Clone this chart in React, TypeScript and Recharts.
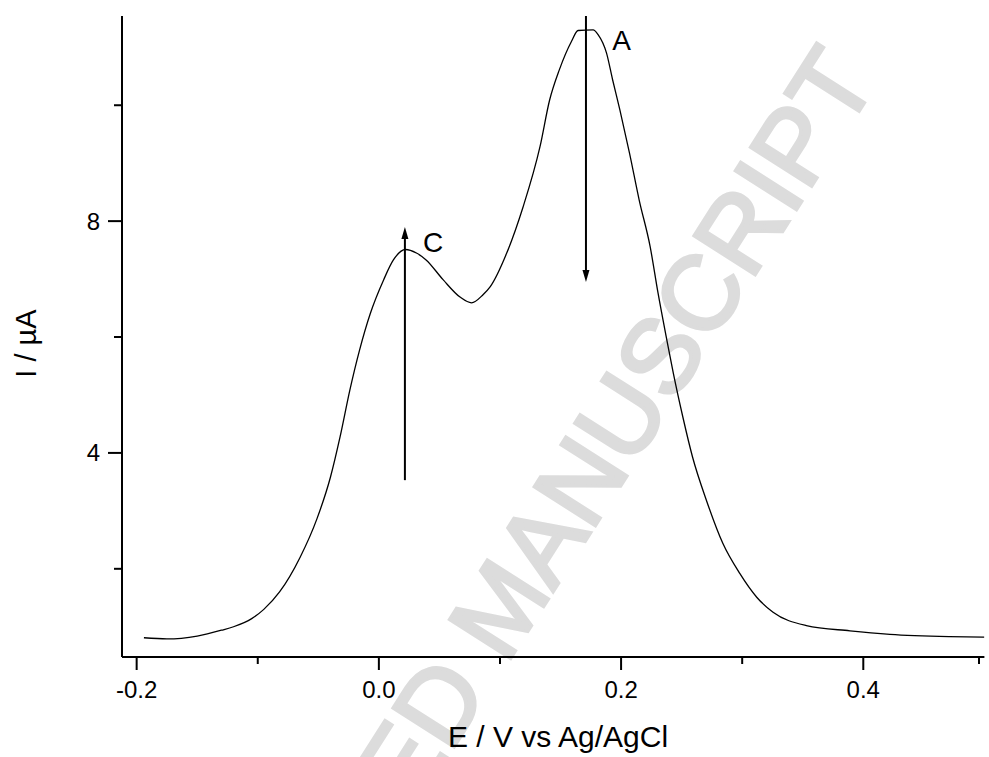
import React from 'react';
import { LineChart, Line, XAxis, YAxis, ReferenceLine, ReferenceDot } from 'recharts';

// differential pulse voltammogram
const potential = [
  -0.194, -0.175, -0.15, -0.13, -0.12, -0.105, -0.095, -0.082, -0.065, -0.051,
  -0.04, -0.032, -0.024, -0.016, -0.007, 0.004, 0.012, 0.022, 0.031, 0.039,
  0.053, 0.067, 0.0765, 0.086, 0.092, 0.1054, 0.119, 0.133, 0.141,
  0.149, 0.159, 0.1645, 0.1769, 0.181, 0.188, 0.193, 0.199, 0.207, 0.215,
  0.224, 0.2305, 0.2375, 0.243, 0.251, 0.259, 0.2705, 0.284, 0.298, 0.312,
  0.3255, 0.353, 0.389, 0.422, 0.471, 0.5,
];
const current = [
  0.81, 0.79, 0.84, 0.94, 1.0, 1.14, 1.3, 1.6, 2.2, 2.87,
  3.58, 4.28, 5.08, 5.77, 6.41, 6.99, 7.33, 7.51, 7.45, 7.33,
  6.99, 6.69, 6.59, 6.73, 6.87, 7.44, 8.24, 9.28, 10.09,
  10.61, 11.1, 11.29, 11.3, 11.22, 10.9, 10.44, 9.92, 9.17, 8.36,
  7.56, 6.76, 5.98, 5.39, 4.62, 3.93, 3.18, 2.44, 1.92, 1.51,
  1.25, 1.02, 0.93, 0.87, 0.83, 0.82,
];

const xTicks = [-0.2, -0.1, 0, 0.1, 0.2, 0.3, 0.4, 0.5];
const xLabelled = [-0.2, 0, 0.2, 0.4];
const yTicks = [2, 4, 6, 8, 10];
const yLabelled = [4, 8];

// arrows: [potential, from current, to current]
const arrowC = [0.0215, 3.53, 7.9];
const arrowA = [0.171, 11.54, 6.95];

const FONT = "'Liberation Sans', Arial, Helvetica, sans-serif";

const data = potential.map((e, i) => ({ e, i: current[i] }));

const isLabelled = (list: number[], v: number) => list.some((m) => Math.abs(m - v) < 1e-9);

function XTick(props: any) {
  const { x, y, payload } = props;
  const major = isLabelled(xLabelled, payload.value);
  return (
    <g>
      <line x1={x} x2={x} y1={y} y2={y + (major ? 13 : 7)} stroke="#000" strokeWidth={2} />
      {major && (
        <text x={x} y={y + 41} textAnchor="middle" fontSize={24} fontFamily={FONT} fill="#000">
          {payload.value.toFixed(1)}
        </text>
      )}
    </g>
  );
}

function YTick(props: any) {
  const { x, y, payload } = props;
  const major = isLabelled(yLabelled, payload.value);
  return (
    <g>
      <line x1={x - (major ? 14 : 8)} x2={x} y1={y} y2={y} stroke="#000" strokeWidth={2} />
      {major && (
        <text x={x - 22} y={y + 8.5} textAnchor="end" fontSize={24} fontFamily={FONT} fill="#000">
          {payload.value}
        </text>
      )}
    </g>
  );
}

function arrowShape(props: any) {
  const { x1, y1, x2, y2 } = props;
  const dir = y2 > y1 ? 1 : -1;
  return (
    <g>
      <line x1={x1} y1={y1} x2={x2} y2={y2 - dir * 10} stroke="#000" strokeWidth={2} />
      <polygon
        points={`${x2},${y2} ${x2 - 3.5},${y2 - dir * 12} ${x2 + 3.5},${y2 - dir * 12}`}
        fill="#000"
      />
    </g>
  );
}

const letter = (t: string) => (p: any) => (
  <text x={p.cx} y={p.cy + 10} textAnchor="middle" fontSize={28} fontFamily={FONT} fill="#000">
    {t}
  </text>
);

export default function App() {
  return (
    <div style={{ position: 'relative', width: 989, height: 757, background: '#fff', overflow: 'hidden' }}>
      <style>{'body{margin:0}'}</style>
      <svg width={989} height={757} style={{ position: 'absolute', left: 0, top: 0 }}>
        <text
          x={879}
          y={80}
          transform="rotate(-57.5 879 80)"
          textAnchor="end"
          fontSize={105}
          fontFamily={FONT}
          fill="#dcdcdc"
          stroke="#dcdcdc"
          strokeWidth={3.5}
        >
          ACCEPTED MANUSCRIPT
        </text>
      </svg>
      <div style={{ position: 'absolute', left: 0, top: 0 }}>
        <LineChart width={989} height={757} data={data} margin={{ top: 16, right: 4.6, bottom: 0, left: 0 }}>
          <XAxis
            type="number"
            dataKey="e"
            domain={[-0.2121, 0.5]}
            ticks={xTicks}
            allowDataOverflow
            height={100}
            tickSize={0}
            tickMargin={0}
            tick={<XTick />}
            axisLine={{ stroke: '#000', strokeWidth: 2 }}
            label={() => (
              <text x={558} y={747} textAnchor="middle" fontSize={30} fontFamily={FONT} fill="#000">
                E / V vs Ag/AgCl
              </text>
            )}
          />
          <YAxis
            type="number"
            domain={[0.478, 11.54]}
            ticks={yTicks}
            allowDataOverflow
            width={122}
            tickSize={0}
            tickMargin={0}
            tick={<YTick />}
            axisLine={{ stroke: '#000', strokeWidth: 2 }}
            label={() => (
              <text
                x={36}
                y={343.5}
                transform="rotate(-90 36 343.5)"
                textAnchor="middle"
                fontSize={29}
                fontFamily={FONT}
                fill="#000"
              >
                I / µA
              </text>
            )}
          />
          <Line
            type="monotone"
            dataKey="i"
            stroke="#000"
            strokeWidth={1.3}
            dot={false}
            isAnimationActive={false}
          />
          <ReferenceLine
            segment={[
              { x: arrowC[0], y: arrowC[1] },
              { x: arrowC[0], y: arrowC[2] },
            ]}
            ifOverflow="visible"
            shape={arrowShape}
          />
          <ReferenceLine
            segment={[
              { x: arrowA[0], y: arrowA[1] },
              { x: arrowA[0], y: arrowA[2] },
            ]}
            ifOverflow="visible"
            shape={arrowShape}
          />
          <ReferenceDot x={0.0447} y={7.64} r={0} ifOverflow="visible" shape={letter('C')} />
          <ReferenceDot x={0.2005} y={11.13} r={0} ifOverflow="visible" shape={letter('A')} />
        </LineChart>
      </div>
    </div>
  );
}
